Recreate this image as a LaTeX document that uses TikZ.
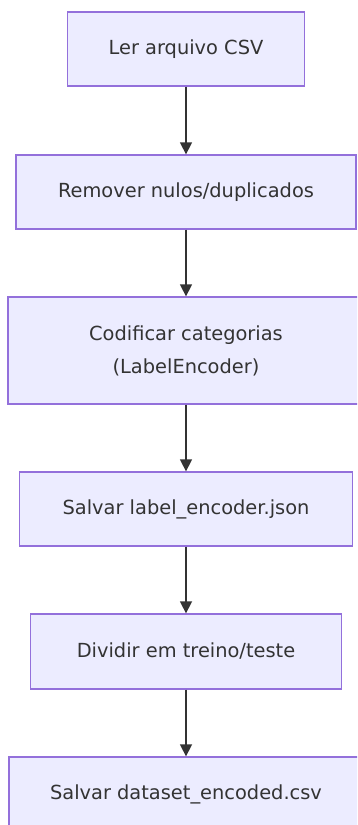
\documentclass[tikz,border=0pt]{standalone}
\usepackage{fontspec}
\setmainfont{DejaVu Sans}
\usetikzlibrary{arrows.meta}
\definecolor{boxfill}{HTML}{ECECFF}
\definecolor{boxline}{HTML}{9370DB}
\definecolor{ink}{HTML}{333333}
\tikzset{
  stepbox/.style={rectangle, draw=boxline, fill=boxfill, line width=1.3bp,
    text=ink, align=center, inner sep=0pt,
    font=\fontsize{19.4bp}{33bp}\selectfont},
  flow/.style={draw=ink, line width=1.5bp, -{Triangle[width=12bp,length=12bp]}}
}
\begin{document}
\begin{tikzpicture}[x=1bp,y=-1bp]
  \useasboundingbox (0,0) rectangle (357,825);
  \clip (0,0) rectangle (357,825);
  \node[stepbox, minimum width=237bp, minimum height=74bp] (ler) at (186,49) {Ler arquivo CSV};
  \node[stepbox, minimum width=340bp, minimum height=74bp] (rem) at (186,192) {Remover nulos/duplicados};
  \node[stepbox, minimum width=356bp, minimum height=107bp] (cod) at (186,350.5) {Codificar categorias\\(LabelEncoder)};
  \node[stepbox, minimum width=333bp, minimum height=74bp] (sal) at (186,509) {Salvar label\_encoder.json};
  \node[stepbox, minimum width=311bp, minimum height=75bp] (div) at (186,651.5) {Dividir em treino/teste};
  \node[stepbox, minimum width=354bp, minimum height=74bp] (dat) at (186,794) {Salvar dataset\_encoded.csv};
  \draw[flow] (ler) -- (rem);
  \draw[flow] (rem) -- (cod);
  \draw[flow] (cod) -- (sal);
  \draw[flow] (sal) -- (div);
  \draw[flow] (div) -- (dat);
\end{tikzpicture}
\end{document}
